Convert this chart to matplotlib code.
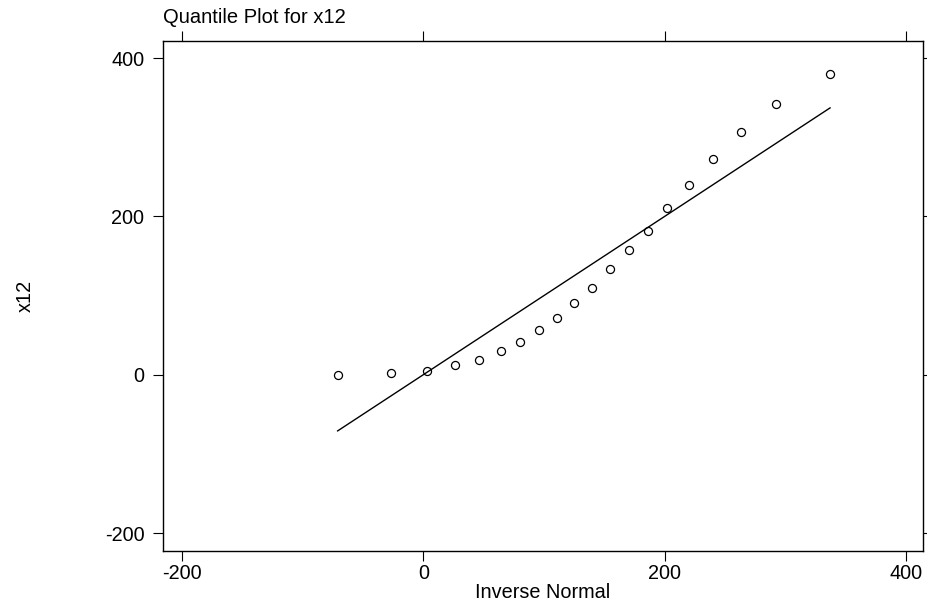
import matplotlib.pyplot as plt
import numpy as np

plt.rcParams['font.family'] = ['Liberation Sans', 'DejaVu Sans']
plt.rcParams['axes.unicode_minus'] = False

# inverse normal quantiles (x) and sorted x12 values (y)
inv_normal = np.array([-71, -27, 3, 26, 46, 64, 80, 96, 111, 125,
                       140, 155, 170, 186, 202, 220, 240, 263, 292, 337])
x12 = np.array([0, 2, 5, 12, 19, 30, 41, 56, 72, 90,
                110, 133, 157, 182, 211, 240, 272, 306, 342, 380])
ticks = [-200, 0, 200, 400]

fig = plt.figure(figsize=(9.27, 6.02), dpi=100)
ax = fig.add_axes([163/927, 1-551/602, 760/927, 510/602])

ax.plot(inv_normal, x12, 'o', mfc='none', mec='black', ms=5.8, mew=0.9)
lo, hi = inv_normal.min(), inv_normal.max()
ax.plot([lo, hi], [lo, hi], color='black', lw=1)

ax.set_xlim(-215.7, 414)
ax.set_ylim(-222.7, 421.5)
ax.set_xticks(ticks)
ax.set_yticks(ticks)
ax.tick_params(direction='out', length=7.5, width=0.8, labelsize=14.3,
               top=True, right=True, color='black')
ax.tick_params(axis='x', pad=2)
ax.tick_params(axis='y', pad=6)
for s in ax.spines.values():
    s.set_linewidth(1)

ax.set_xlabel("Inverse Normal", fontsize=14.3, labelpad=0)
ax.set_ylabel("x12", fontsize=14.3, labelpad=50)
ax.set_title("Quantile Plot for x12", fontsize=14.5, loc='left', pad=13)

fig.savefig("out.png", dpi=100)
